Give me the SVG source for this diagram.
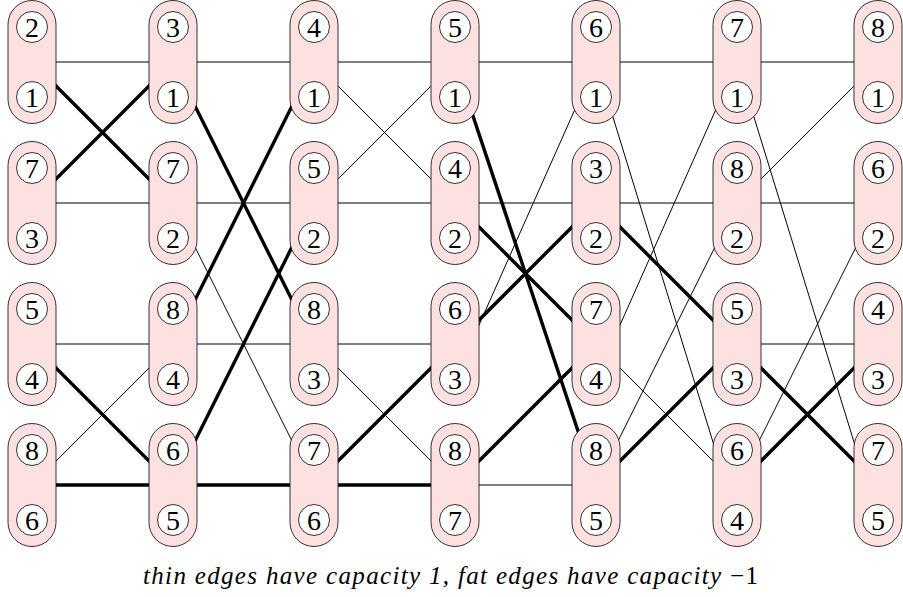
<svg xmlns="http://www.w3.org/2000/svg" width="903" height="597" viewBox="0 0 903 597">
<style>
.thin{stroke:#000;stroke-width:1;fill:none}
.thick{stroke:#000;stroke-width:3.4;fill:none}
.pill{fill:#fde0e0;stroke:#000;stroke-width:0.8}
.c{fill:#fff;stroke:#000;stroke-width:0.8}
.n{font-family:'Liberation Serif','Times New Roman',serif;font-size:28px;text-anchor:middle;fill:#000}
.cap{font-family:'Liberation Serif','Times New Roman',serif;font-size:25px;font-style:italic;text-anchor:middle;fill:#000}
</style>
<rect width="903" height="597" fill="#fff"/>
<g id="edges">
<line class="thin" x1="32" y1="62" x2="173" y2="62"/>
<line class="thick" x1="32" y1="62" x2="173" y2="203"/>
<line class="thick" x1="32" y1="203" x2="173" y2="62"/>
<line class="thin" x1="32" y1="203" x2="173" y2="203"/>
<line class="thin" x1="32" y1="344" x2="173" y2="344"/>
<line class="thick" x1="32" y1="344" x2="173" y2="485"/>
<line class="thin" x1="32" y1="485" x2="173" y2="344"/>
<line class="thick" x1="32" y1="485" x2="173" y2="485"/>
<line class="thin" x1="173" y1="62" x2="314" y2="62"/>
<line class="thick" x1="173" y1="62" x2="314" y2="344"/>
<line class="thin" x1="173" y1="203" x2="314" y2="203"/>
<line class="thin" x1="173" y1="203" x2="314" y2="485"/>
<line class="thick" x1="173" y1="344" x2="314" y2="62"/>
<line class="thin" x1="173" y1="344" x2="314" y2="344"/>
<line class="thick" x1="173" y1="485" x2="314" y2="203"/>
<line class="thick" x1="173" y1="485" x2="314" y2="485"/>
<line class="thin" x1="314" y1="62" x2="455" y2="62"/>
<line class="thin" x1="314" y1="62" x2="455" y2="203"/>
<line class="thin" x1="314" y1="203" x2="455" y2="62"/>
<line class="thin" x1="314" y1="203" x2="455" y2="203"/>
<line class="thin" x1="314" y1="344" x2="455" y2="344"/>
<line class="thin" x1="314" y1="344" x2="455" y2="485"/>
<line class="thick" x1="314" y1="485" x2="455" y2="344"/>
<line class="thick" x1="314" y1="485" x2="455" y2="485"/>
<line class="thin" x1="455" y1="62" x2="596" y2="62"/>
<line class="thick" x1="455" y1="62" x2="596" y2="485"/>
<line class="thin" x1="455" y1="203" x2="596" y2="203"/>
<line class="thick" x1="455" y1="203" x2="596" y2="344"/>
<line class="thick" x1="455" y1="344" x2="596" y2="203"/>
<line class="thin" x1="455" y1="379" x2="596" y2="62"/>
<line class="thick" x1="455" y1="485" x2="596" y2="344"/>
<line class="thin" x1="455" y1="485" x2="596" y2="485"/>
<line class="thin" x1="596" y1="62" x2="737" y2="62"/>
<line class="thin" x1="596" y1="62" x2="737" y2="520"/>
<line class="thin" x1="596" y1="203" x2="737" y2="203"/>
<line class="thick" x1="596" y1="203" x2="737" y2="344"/>
<line class="thin" x1="596" y1="379" x2="737" y2="62"/>
<line class="thin" x1="596" y1="344" x2="737" y2="485"/>
<line class="thin" x1="596" y1="485" x2="737" y2="203"/>
<line class="thick" x1="596" y1="485" x2="737" y2="344"/>
<line class="thin" x1="737" y1="62" x2="878" y2="62"/>
<line class="thin" x1="737" y1="62" x2="878" y2="520"/>
<line class="thin" x1="737" y1="203" x2="878" y2="62"/>
<line class="thin" x1="737" y1="203" x2="878" y2="203"/>
<line class="thin" x1="737" y1="344" x2="878" y2="344"/>
<line class="thick" x1="737" y1="344" x2="878" y2="485"/>
<line class="thin" x1="737" y1="485" x2="878" y2="203"/>
<line class="thick" x1="737" y1="485" x2="878" y2="344"/>
</g>
<defs>
<g id="pill">
<rect class="pill" x="-24" y="-61.5" width="48" height="123" rx="24" ry="24"/>
<circle class="c" cx="0" cy="-35" r="15.5"/>
<circle class="c" cx="0" cy="35" r="15.5"/>
</g>
</defs>
<g id="n1-1" transform="translate(32,62)"><use href="#pill"/><text class="n" x="0" y="-25.5">2</text><text class="n" x="0" y="44.5">1</text></g>
<g id="n1-2" transform="translate(32,203)"><use href="#pill"/><text class="n" x="0" y="-25.5">7</text><text class="n" x="0" y="44.5">3</text></g>
<g id="n1-3" transform="translate(32,344)"><use href="#pill"/><text class="n" x="0" y="-25.5">5</text><text class="n" x="0" y="44.5">4</text></g>
<g id="n1-4" transform="translate(32,485)"><use href="#pill"/><text class="n" x="0" y="-25.5">8</text><text class="n" x="0" y="44.5">6</text></g>
<g id="n2-1" transform="translate(173,62)"><use href="#pill"/><text class="n" x="0" y="-25.5">3</text><text class="n" x="0" y="44.5">1</text></g>
<g id="n2-2" transform="translate(173,203)"><use href="#pill"/><text class="n" x="0" y="-25.5">7</text><text class="n" x="0" y="44.5">2</text></g>
<g id="n2-3" transform="translate(173,344)"><use href="#pill"/><text class="n" x="0" y="-25.5">8</text><text class="n" x="0" y="44.5">4</text></g>
<g id="n2-4" transform="translate(173,485)"><use href="#pill"/><text class="n" x="0" y="-25.5">6</text><text class="n" x="0" y="44.5">5</text></g>
<g id="n3-1" transform="translate(314,62)"><use href="#pill"/><text class="n" x="0" y="-25.5">4</text><text class="n" x="0" y="44.5">1</text></g>
<g id="n3-2" transform="translate(314,203)"><use href="#pill"/><text class="n" x="0" y="-25.5">5</text><text class="n" x="0" y="44.5">2</text></g>
<g id="n3-3" transform="translate(314,344)"><use href="#pill"/><text class="n" x="0" y="-25.5">8</text><text class="n" x="0" y="44.5">3</text></g>
<g id="n3-4" transform="translate(314,485)"><use href="#pill"/><text class="n" x="0" y="-25.5">7</text><text class="n" x="0" y="44.5">6</text></g>
<g id="n4-1" transform="translate(455,62)"><use href="#pill"/><text class="n" x="0" y="-25.5">5</text><text class="n" x="0" y="44.5">1</text></g>
<g id="n4-2" transform="translate(455,203)"><use href="#pill"/><text class="n" x="0" y="-25.5">4</text><text class="n" x="0" y="44.5">2</text></g>
<g id="n4-3" transform="translate(455,344)"><use href="#pill"/><text class="n" x="0" y="-25.5">6</text><text class="n" x="0" y="44.5">3</text></g>
<g id="n4-4" transform="translate(455,485)"><use href="#pill"/><text class="n" x="0" y="-25.5">8</text><text class="n" x="0" y="44.5">7</text></g>
<g id="n5-1" transform="translate(596,62)"><use href="#pill"/><text class="n" x="0" y="-25.5">6</text><text class="n" x="0" y="44.5">1</text></g>
<g id="n5-2" transform="translate(596,203)"><use href="#pill"/><text class="n" x="0" y="-25.5">3</text><text class="n" x="0" y="44.5">2</text></g>
<g id="n5-3" transform="translate(596,344)"><use href="#pill"/><text class="n" x="0" y="-25.5">7</text><text class="n" x="0" y="44.5">4</text></g>
<g id="n5-4" transform="translate(596,485)"><use href="#pill"/><text class="n" x="0" y="-25.5">8</text><text class="n" x="0" y="44.5">5</text></g>
<g id="n6-1" transform="translate(737,62)"><use href="#pill"/><text class="n" x="0" y="-25.5">7</text><text class="n" x="0" y="44.5">1</text></g>
<g id="n6-2" transform="translate(737,203)"><use href="#pill"/><text class="n" x="0" y="-25.5">8</text><text class="n" x="0" y="44.5">2</text></g>
<g id="n6-3" transform="translate(737,344)"><use href="#pill"/><text class="n" x="0" y="-25.5">5</text><text class="n" x="0" y="44.5">3</text></g>
<g id="n6-4" transform="translate(737,485)"><use href="#pill"/><text class="n" x="0" y="-25.5">6</text><text class="n" x="0" y="44.5">4</text></g>
<g id="n7-1" transform="translate(878,62)"><use href="#pill"/><text class="n" x="0" y="-25.5">8</text><text class="n" x="0" y="44.5">1</text></g>
<g id="n7-2" transform="translate(878,203)"><use href="#pill"/><text class="n" x="0" y="-25.5">6</text><text class="n" x="0" y="44.5">2</text></g>
<g id="n7-3" transform="translate(878,344)"><use href="#pill"/><text class="n" x="0" y="-25.5">4</text><text class="n" x="0" y="44.5">3</text></g>
<g id="n7-4" transform="translate(878,485)"><use href="#pill"/><text class="n" x="0" y="-25.5">7</text><text class="n" x="0" y="44.5">5</text></g>
<text class="cap" x="450.5" y="584" textLength="615" lengthAdjust="spacing">thin edges have capacity 1, fat edges have capacity <tspan font-style="normal">−1</tspan></text>
</svg>
